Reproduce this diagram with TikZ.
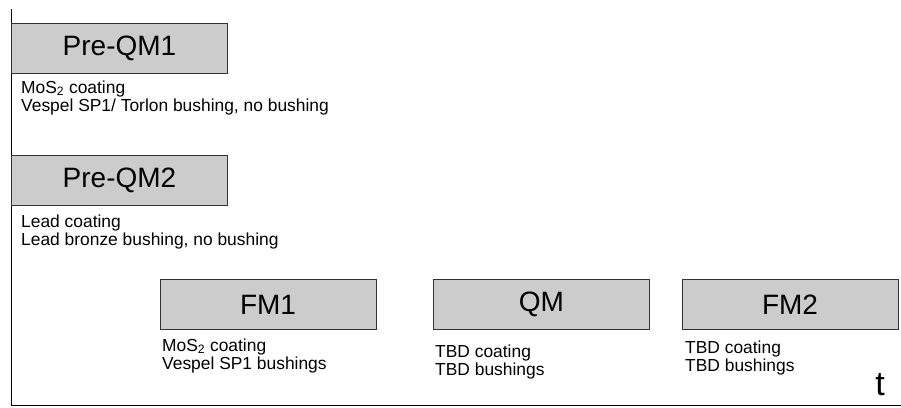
\documentclass[tikz,border=0pt]{standalone}
\usepackage{fontspec}
\setmainfont{Liberation Sans}
\usetikzlibrary{positioning}
\definecolor{stagegray}{RGB}{204,204,204}
\definecolor{edgegray}{RGB}{51,51,51}

\tikzset{
  stagebox/.style={rectangle,draw=edgegray,fill=stagegray,line width=0.9pt,
    minimum width=216pt,minimum height=50pt,inner sep=0pt,
    font=\fontsize{28}{30}\selectfont},
  stagenote/.style={anchor=north west,inner sep=0pt,align=left,
    font=\fontsize{17.4}{18.5}\selectfont}
}

\begin{document}
\begin{tikzpicture}[x=1pt,y=-1pt]
    \useasboundingbox (0,0) rectangle (901,407);

    % Zeitachse
    \coordinate (axtop) at (11.5,9);
    \coordinate (axorigin) at (11.5,405.5);
    \coordinate (axend) at (901,405.5);
    \draw[line width=1.3pt] (axtop) -- (axorigin) -- (axend);
    \node[anchor=base,inner sep=0pt,font=\fontsize{34}{36}\selectfont] (tlabel) at (880,395) {t};

    % Pre-QM1
    \node[stagebox] (preqm1) at (119.5,48) {Pre-QM1};
    \node[stagenote] (preqm1note) at (21,80.5) {MoS\textsubscript{2} coating\\Vespel SP1/ Torlon bushing, no bushing};

    % Pre-QM2
    \node[stagebox] (preqm2) at (119.5,180) {Pre-QM2};
    \node[stagenote] (preqm2note) at (21,214.5) {Lead coating\\Lead bronze bushing, no bushing};

    % FM1
    \node[stagebox] (fm1) at (268,304.5) {FM1};
    \node[stagenote] (fm1note) at (162,338.5) {MoS\textsubscript{2} coating\\Vespel SP1 bushings};

    % QM
    \node[stagebox] (qm) at (541.5,304.5) {QM};
    \node[stagenote] (qmnote) at (435,344.5) {TBD coating\\TBD bushings};

    % FM2
    \node[stagebox] (fm2) at (790,304.5) {FM2};
    \node[stagenote] (fm2note) at (685,340.5) {TBD coating\\TBD bushings};
\end{tikzpicture}
\end{document}
